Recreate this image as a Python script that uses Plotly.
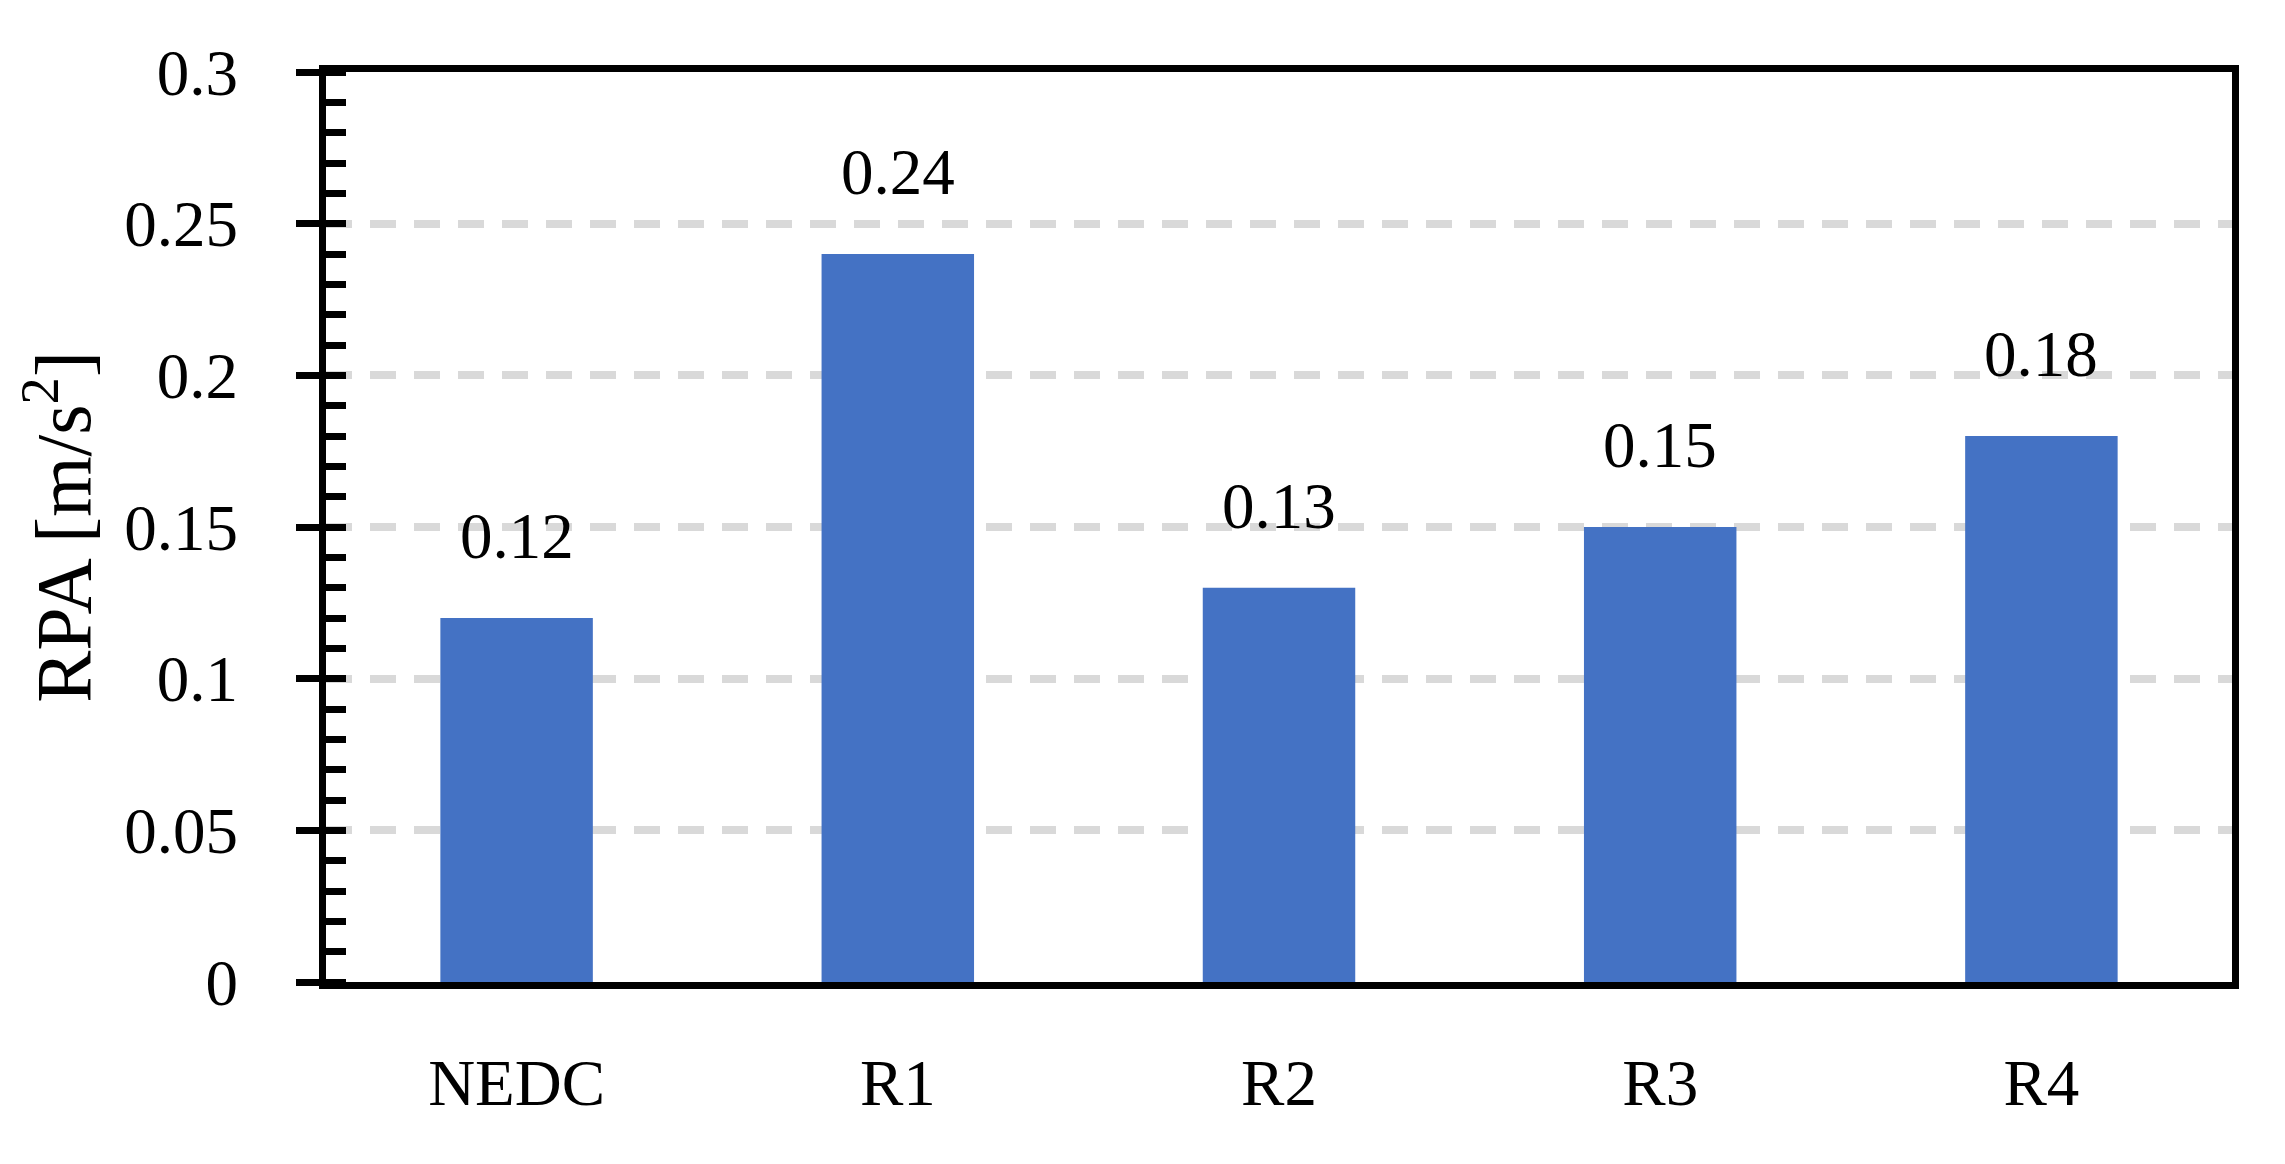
import plotly.graph_objects as go

# values
cycles = ["NEDC", "R1", "R2", "R3", "R4"]
rpa = [0.12, 0.24, 0.13, 0.15, 0.18]
rpa_text = ["0.12", "0.24", "0.13", "0.15", "0.18"]
y_ticks = [0, 0.05, 0.1, 0.15, 0.2, 0.25, 0.3]
y_tick_text = ["0", "0.05", "0.1", "0.15", "0.2", "0.25", "0.3"]

font_name = "Liberation Serif"
font_size = 65

fig = go.Figure()
fig.add_trace(go.Bar(x=cycles, y=rpa, marker_color="#4472C4", marker_line_width=0,
                     showlegend=False, hoverinfo="skip"))
# invisible trace so the inner major ticks get their own axis
fig.add_trace(go.Scatter(x=cycles, y=rpa, yaxis="y2", mode="markers",
                         marker_opacity=0, showlegend=False, hoverinfo="skip"))

for c, v, t in zip(cycles, rpa, rpa_text):
    fig.add_annotation(x=c, y=v, text=t, showarrow=False, yanchor="bottom", yshift=44,
                       font=dict(family=font_name, size=font_size, color="black"))

fig.update_layout(
    width=2285, height=1164,
    margin=dict(l=318, r=61, t=64, b=190),
    plot_bgcolor="white", paper_bgcolor="white",
    font=dict(family=font_name, size=font_size, color="black"),
    bargap=0.6,
    xaxis=dict(showline=True, linecolor="black", linewidth=7, mirror=True,
               ticks="", showgrid=False, ticklabelstandoff=38, automargin=False),
    yaxis=dict(range=[0, 0.3], tickvals=y_ticks, ticktext=y_tick_text,
               showline=True, linecolor="black", linewidth=7, mirror=True,
               ticks="outside", ticklen=23, tickwidth=7, tickcolor="black",
               ticklabelstandoff=45, automargin=False,
               minor=dict(dtick=0.01, ticks="inside", ticklen=20, tickwidth=7,
                          tickcolor="black", showgrid=False),
               showgrid=True, gridcolor="#D9D9D9", gridwidth=8, griddash="26px,18px",
               zeroline=False,
               title=dict(text="RPA [m/s<sup>2</sup>]", standoff=10)),
    yaxis2=dict(range=[0, 0.3], overlaying="y", side="left", anchor="x",
                tickvals=y_ticks, showticklabels=False, ticks="inside", ticklen=20,
                tickwidth=7, tickcolor="black", showgrid=False, zeroline=False,
                showline=False, automargin=False),
)

fig.write_html("out.html")
